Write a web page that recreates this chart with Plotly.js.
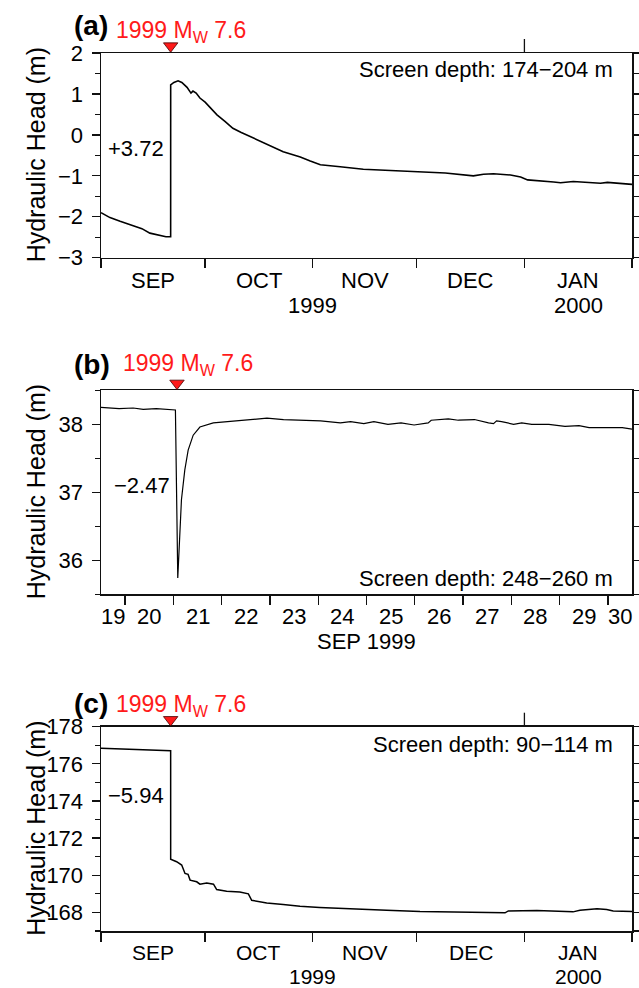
<!DOCTYPE html>
<html><head><meta charset="utf-8">
<script src="https://cdn.plot.ly/plotly-3.0.1.min.js"></script>
<style>body{margin:0;padding:0;background:#fff}#chart{width:639px;height:988px}</style>
</head><body><div id="chart"></div>
<script>
// ---------- data ----------
const quakeTime = '1999-09-21 01:47';
const quakeLabel = '1999 M<sub>W</sub> 7.6';

// Panel (a): screen depth 174-204 m
const aTime = ['1999-09-01','1999-09-03 14:00','1999-09-06 12:00','1999-09-10 05:00','1999-09-12 19:00','1999-09-15 02:00','1999-09-18','1999-09-19 17:00','1999-09-21 01:40',
  '1999-09-21 01:50','1999-09-22','1999-09-23 05:00','1999-09-24 07:00','1999-09-25 19:00','1999-09-26 22:00','1999-09-27 12:00','1999-09-28 10:00','1999-09-29 12:00',
  '1999-10-01','1999-10-02 10:00','1999-10-04 10:00','1999-10-06 17:00','1999-10-09','1999-10-11 10:00','1999-10-14','1999-10-16 07:00','1999-10-18 22:00','1999-10-21 05:00',
  '1999-10-23 12:00','1999-10-26 02:00','1999-10-28 10:00','1999-10-31 07:00','1999-11-03 05:00','1999-11-08 22:00','1999-11-15 14:00','1999-11-23 10:00','1999-12-02',
  '1999-12-09 05:00','1999-12-17 07:00','1999-12-20 05:00','1999-12-23 02:00','1999-12-28','1999-12-30 22:00','2000-01-01 22:00','2000-01-09 10:00','2000-01-11 10:00',
  '2000-01-15 02:00','2000-01-19 05:00','2000-01-22 22:00','2000-01-24 22:00','2000-01-28 17:00','2000-02-01'];
const aHead = [-1.90,-2.02,-2.11,-2.22,-2.29,-2.40,-2.46,-2.49,-2.49,
  1.22,1.28,1.32,1.28,1.16,1.02,1.07,1.02,0.90,
  0.80,0.68,0.49,0.33,0.16,0.06,-0.04,-0.14,-0.24,-0.32,
  -0.41,-0.48,-0.54,-0.64,-0.73,-0.78,-0.84,-0.87,-0.91,
  -0.93,-1.00,-0.96,-0.95,-0.98,-1.03,-1.10,-1.15,-1.17,
  -1.14,-1.17,-1.18,-1.16,-1.18,-1.21];

// Panel (b): screen depth 248-260 m
const bTime = ['1999-09-19 11:45','1999-09-19 21:00','1999-09-20 04:00','1999-09-20 09:00','1999-09-20 15:30','1999-09-21 00:30','1999-09-21 01:00',
  '1999-09-21 02:10','1999-09-21 04:00','1999-09-21 05:40','1999-09-21 07:20','1999-09-21 09:50','1999-09-21 13:10','1999-09-21 19:50',
  '1999-09-22 05:50','1999-09-22 14:10','1999-09-22 22:30','1999-09-23 06:45','1999-09-23 15:10','1999-09-24 01:10','1999-09-24 11:00','1999-09-24 16:05',
  '1999-09-24 22:40','1999-09-25 03:40','1999-09-25 10:40','1999-09-25 17:10','1999-09-25 23:40','1999-09-26 06:40','1999-09-26 08:10','1999-09-26 16:40',
  '1999-09-26 21:40','1999-09-27 05:40','1999-09-27 12:40','1999-09-27 15:10','1999-09-27 16:40','1999-09-27 19:10','1999-09-28 01:10','1999-09-28 05:10',
  '1999-09-28 10:10','1999-09-28 18:40','1999-09-29 02:40','1999-09-29 09:40','1999-09-29 14:40','1999-09-29 22:40','1999-09-30 07:10','1999-09-30 12:00'];
const bHead = [38.25,38.23,38.24,38.22,38.23,38.21,38.21,
  35.74,36.89,37.33,37.62,37.84,37.96,38.02,
  38.05,38.07,38.09,38.07,38.06,38.05,38.02,38.04,
  38.01,38.04,38.00,38.02,37.99,38.02,38.06,38.08,
  38.06,38.07,38.02,38.01,38.05,38.04,38.00,38.02,
  38.00,38.00,37.97,37.98,37.95,37.95,37.95,37.93];

// Panel (c): screen depth 90-114 m
const cTime = ['1999-09-01','1999-09-08','1999-09-15','1999-09-21 01:40',
  '1999-09-21 01:50','1999-09-22 19:00','1999-09-24 06:00','1999-09-24 18:00','1999-09-25 05:00','1999-09-26 02:00','1999-09-26 16:00','1999-09-28 14:00',
  '1999-09-29 12:00','1999-10-01 11:00','1999-10-03 10:00','1999-10-04 08:00','1999-10-07 05:00','1999-10-11','1999-10-13 11:00','1999-10-14 10:00',
  '1999-10-18 18:00','1999-10-23 12:00','1999-10-28 08:00','1999-11-03','1999-11-12 17:00','1999-11-22 07:00','1999-12-01 22:00','1999-12-11 10:00',
  '1999-12-21 05:00','1999-12-26 10:00','1999-12-27 09:00','2000-01-04 14:00','2000-01-15','2000-01-17','2000-01-21 22:00','2000-01-24 17:00',
  '2000-01-26 14:00','2000-02-01'];
const cHead = [176.84,176.80,176.76,176.71,
  170.86,170.73,170.55,170.30,170.10,170.05,169.74,169.65,
  169.52,169.58,169.52,169.23,169.14,169.10,169.00,168.65,
  168.51,168.43,168.33,168.27,168.18,168.12,168.05,168.03,
  168.00,167.98,168.08,168.11,168.03,168.12,168.20,168.16,
  168.08,168.05];

const changeLabels = ['+3.72','\u22122.47','\u22125.94'];
const depthLabels = ['Screen depth: 174\u2212204 m','Screen depth: 248\u2212260 m','Screen depth: 90\u2212114 m'];

const monthStarts = ['1999-09-01','1999-10-01','1999-11-01','1999-12-01','2000-01-01','2000-02-01'];
const monthMids = ['1999-09-16','1999-10-16 12:00','1999-11-16','1999-12-16 12:00','2000-01-16 12:00'];
const monthText = ['SEP','OCT','NOV','DEC','JAN'];
const yearMids = ['1999-11-01','2000-01-16 12:00'];
const yearText = ['1999','2000'];

const dayStarts = ['1999-09-20','1999-09-21','1999-09-22','1999-09-23','1999-09-24','1999-09-25','1999-09-26','1999-09-27','1999-09-28','1999-09-29','1999-09-30'];
const dayMids = ['1999-09-19 18:00','1999-09-20 12:00','1999-09-21 12:00','1999-09-22 12:00','1999-09-23 12:00','1999-09-24 12:00','1999-09-25 12:00','1999-09-26 12:00','1999-09-27 12:00','1999-09-28 12:00','1999-09-29 12:00','1999-09-30 06:00'];
const dayText = ['19','20','21','22','23','24','25','26','27','28','29','30'];

const aYTicks = [-3,-2,-1,0,1,2];
const bYTicks = [36,37,38];
const cYTicks = [168,170,172,174,176,178];

// ---------- layout helpers ----------
const W = 639, H = 988;
const FONT = 'Liberation Sans, Arial, Helvetica, sans-serif';
const INK = '#111';
const XD = [101/W, 632/W];
const panels = [
  {top:53, bot:257.7, yr:[-3,2], major:aYTicks, minorStep:0.5, rightStep:0.5},
  {top:390.3, bot:594.3, yr:[35.5,38.5], major:bYTicks, minorStep:0.5, rightStep:0.5},
  {top:726.7, bot:931, yr:[167,178], major:cYTicks, minorStep:1, rightStep:1}
];
function steps(r, s){const o=[];for(let v=r[0];v<=r[1]+1e-9;v+=s)o.push(+v.toFixed(4));return o;}
function ydom(p){return [1-p.bot/H, 1-p.top/H];}

const layout = {
  width:W, height:H, margin:{l:0,r:0,t:0,b:0}, showlegend:false,
  paper_bgcolor:'#fff', plot_bgcolor:'#fff',
  font:{family:FONT, size:22, color:'#000'},
  annotations:[], shapes:[]
};

function xAxis(range, starts, anchor){
  return {domain:XD, anchor:anchor, type:'date', range:range, tickmode:'array', tickvals:starts, ticks:'outside', ticklen:9, tickwidth:1.3, tickcolor:INK,
    showticklabels:false, showline:true, mirror:true, linecolor:INK, linewidth:1.5, showgrid:false, zeroline:false};
}
function yAxis(p, anchor){
  const minors = steps(p.yr, p.minorStep).filter(v=>p.major.indexOf(v)<0);
  return {domain:ydom(p), anchor:anchor, range:p.yr, tickmode:'array', tickvals:p.major,
    ticks:'outside', ticklen:8, tickwidth:1.3, tickcolor:INK, showline:true, mirror:true, linecolor:INK, linewidth:1.5,
    showgrid:false, zeroline:false, tickfont:{size:22, family:FONT, color:'#000'}, ticklabelstandoff:4,
    minor:{tickmode:'array', tickvals:minors, ticks:'outside', ticklen:4.5, tickwidth:1.3, tickcolor:INK, showgrid:false}};
}
function yRight(p, over, anchor){
  return {overlaying:over, side:'right', anchor:anchor, range:p.yr, tickmode:'array', tickvals:steps(p.yr,p.rightStep),
    ticks:'outside', ticklen:7, tickwidth:1.3, tickcolor:INK, showticklabels:false, showline:false, showgrid:false, zeroline:false};
}
// thin invisible strip above each panel that carries the earthquake marker
function yMarkStrip(p, anchor){
  return {domain:[1-p.top/H, 1-(p.top-14)/H], anchor:anchor, range:[0,1], visible:false, showgrid:false, zeroline:false};
}

const rangeA = ['1999-09-01','2000-02-01'];
const rangeB = ['1999-09-19 12:00','1999-09-30 12:00'];

layout.xaxis  = xAxis(rangeA, monthStarts, 'y');
layout.xaxis2 = xAxis(rangeB, dayStarts, 'y2');
layout.xaxis3 = xAxis(rangeA, monthStarts, 'y3');
layout.yaxis  = yAxis(panels[0], 'x');
layout.yaxis2 = yAxis(panels[1], 'x2');
layout.yaxis3 = yAxis(panels[2], 'x3');
layout.yaxis4 = yRight(panels[0], 'y', 'x');
layout.yaxis5 = yRight(panels[1], 'y2', 'x2');
layout.yaxis6 = yRight(panels[2], 'y3', 'x3');
layout.yaxis7 = yMarkStrip(panels[0], 'x');
layout.yaxis8 = yMarkStrip(panels[1], 'x2');
layout.yaxis9 = yMarkStrip(panels[2], 'x3');

// top tick at the year boundary (panels a and c)
[['x','y',panels[0]],['x3','y3',panels[2]]].forEach(([xa,ya,p])=>{
  layout.shapes.push({type:'line', xref:xa, yref:ya+' domain', x0:'2000-01-01', x1:'2000-01-01',
    y0:1, y1:1+14/(p.bot-p.top), line:{color:INK, width:1.3}});
});

const A = layout.annotations;
function ann(o){A.push(Object.assign({showarrow:false, xref:'paper', yref:'paper', font:{family:FONT,size:22,color:'#000'}}, o));}
const f21 = {family:FONT,size:21,color:'#000'};

// x tick labels (centred in each period)
monthMids.forEach((d,i)=>{
  ann({text:monthText[i], xref:'x', x:d, y:1-281/H, xanchor:'center', yanchor:'middle'});
  ann({text:monthText[i], xref:'x3', x:d, y:1-952.5/H, xanchor:'center', yanchor:'middle', font:f21});
});
dayMids.forEach((d,i)=>ann({text:dayText[i], xref:'x2', x:d, y:1-616/H, xanchor:'center', yanchor:'middle'}));
// year labels
yearMids.forEach((d,i)=>{
  ann({text:yearText[i], xref:'x', x:d, y:1-305.5/H, xanchor:'center', yanchor:'middle'});
  ann({text:yearText[i], xref:'x3', x:d, y:1-976/H, xanchor:'center', yanchor:'middle', font:f21});
});
ann({text:'SEP 1999', xref:'x2 domain', x:0.5, y:1-641/H, xanchor:'center', yanchor:'middle'});

// y titles
panels.forEach(p=>{
  ann({text:'Hydraulic Head (m)', x:36/W, y:1-((p.top+p.bot)/2)/H, textangle:-90, xanchor:'center', yanchor:'middle', font:{family:FONT,size:25,color:'#000'}});
});
// panel letters & quake labels
const letterPos = [[91,26],[92,364],[91,703]];
const quakePos = [[114,31],[120.5,365],[114,705]];
['(a)','(b)','(c)'].forEach((t,i)=>{
  ann({text:'<b>'+t+'</b>', x:letterPos[i][0]/W, y:1-letterPos[i][1]/H, xanchor:'center', yanchor:'middle', font:{family:FONT,size:28,color:'#000'}});
  ann({text:quakeLabel, x:quakePos[i][0]/W, y:1-quakePos[i][1]/H, xanchor:'left', yanchor:'middle', font:{family:FONT,size:23,color:'#ff1a1a'}});
});
// screen depth
const depthY = [70,578,744];
depthLabels.forEach((t,i)=>ann({text:t, x:615/W, y:1-depthY[i]/H, xanchor:'right', yanchor:'middle'}));
// change labels
const chPos = [[166,148.5],[172,485],[166,795.5]];
changeLabels.forEach((t,i)=>ann({text:t, x:chPos[i][0]/W, y:1-chPos[i][1]/H, xanchor:'right', yanchor:'middle'}));

// ---------- traces ----------
function line(x,y,xa,ya,w){return {type:'scatter', mode:'lines', x:x, y:y, xaxis:xa, yaxis:ya, line:{color:'#000', width:w}, hoverinfo:'skip'};}
function quake(xa,ya){
  return {type:'scatter', mode:'markers', x:[quakeTime], y:[0.5], xaxis:xa, yaxis:ya, cliponaxis:false,
    marker:{symbol:'triangle-down', size:12.5, color:'#ff1a1a', line:{color:'#400', width:0.8}}, hoverinfo:'skip'};
}
const traces = [
  line(aTime,aHead,'x','y',1.6),
  line(bTime,bHead,'x2','y2',1.2),
  line(cTime,cHead,'x3','y3',1.5),
  quake('x','y7'), quake('x2','y8'), quake('x3','y9'),
  {type:'scatter', x:[], y:[], xaxis:'x', yaxis:'y4', hoverinfo:'skip'},
  {type:'scatter', x:[], y:[], xaxis:'x2', yaxis:'y5', hoverinfo:'skip'},
  {type:'scatter', x:[], y:[], xaxis:'x3', yaxis:'y6', hoverinfo:'skip'}
];
Plotly.newPlot('chart', traces, layout, {staticPlot:true, displayModeBar:false});
</script></body></html>
